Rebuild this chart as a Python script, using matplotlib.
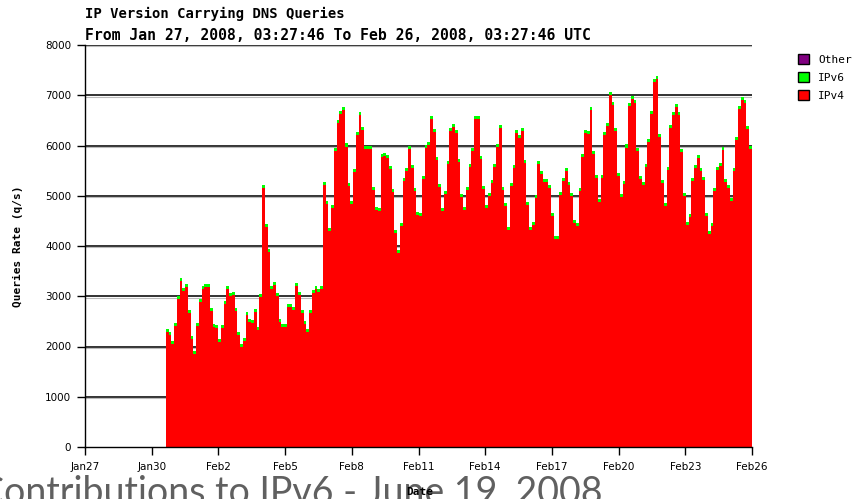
import numpy as np
import matplotlib
matplotlib.use("Agg")
import matplotlib.pyplot as plt
from matplotlib.patches import Patch

# ---- data (queries per second) ----
start_day = 3.64   # days after Jan 27 where the data begins
end_day = 30.0     # Feb 26

ipv4_a = [2280, 2230, 2050, 2410, 2950, 3300, 3110, 3190, 2660, 2150, 1850, 2410,
          2880, 3150, 3190, 3190, 2710, 2380, 2370, 2090, 2360, 2850, 3150, 3010,
          3030, 2710, 2230, 1990, 2110, 2630, 2490, 2460, 2680, 2330, 2980]
ipv4_b = [5150, 4380, 3890, 3150, 3230, 3000, 2490, 2390, 2390, 2790, 2790, 2720,
          3210, 3030, 2670, 2450, 2280, 2670, 3070, 3150, 3080, 3150, 5220, 4830,
          4290, 4760, 5890, 6440, 6620, 6710, 5980, 5200, 4830]
ipv4_c = [5480, 6200, 6600, 6310, 5940, 5940, 5930, 5120, 4720, 4690, 5780, 5800,
          5750, 5530, 5070, 4250, 3870, 4400, 5290, 5500, 5930, 5550, 5090, 4620,
          4590, 5340, 5950, 6010, 6530, 6260, 5720, 5170, 4700, 5040, 5630]
ipv4_d = [6280, 6360, 6250, 5680, 4970, 4720, 5120, 5580, 5900, 6520, 6520, 5730,
          5130, 4750, 4990, 5260, 5580, 5970, 6340, 5120, 4800, 4320, 5190, 5560,
          6250, 6150, 6280, 5650, 4820, 4320, 4420, 4950, 5640, 5430, 5280]
ipv4_e = [5270, 5150, 4590, 4140, 4140, 5020, 5290, 5490, 5220, 5000, 4460, 4400,
          5090, 5770, 6240, 6220, 6700, 5840, 5350, 4880, 5360, 6200, 6380, 7010,
          6810, 6280, 5390, 4970, 5240, 5960, 6780, 6930, 6850, 5890]
ipv4_f = [5330, 5210, 5580, 6060, 6630, 7260, 7320, 6170, 5250, 4790, 5520, 6350,
          6600, 6760, 6600, 5880, 4990, 4420, 4580, 5290, 5550, 5760, 5500, 5320,
          4590, 4230, 4400, 5100, 5520, 5600, 5920, 5280, 5150, 4890, 5500, 6110,
          6730, 6910, 6850, 6320, 5930]
ipv4 = ipv4_a + ipv4_b + ipv4_c + ipv4_d + ipv4_e + ipv4_f

# IPv6 is a thin, roughly even cap on every step
ipv6 = [60] * len(ipv4)

tick_days = [0, 3, 6, 9, 12, 15, 18, 21, 24, 27, 30]
tick_labels = ["Jan27", "Jan30", "Feb2", "Feb5", "Feb8", "Feb11", "Feb14",
               "Feb17", "Feb20", "Feb23", "Feb26"]
y_ticks = [0, 1000, 2000, 3000, 4000, 5000, 6000, 7000, 8000]

# ---- figure ----
W, H = 867, 499
fig = plt.figure(figsize=(W / 100, H / 100), dpi=100)
ax = fig.add_axes([85 / W, 1 - 447 / H, (752 - 85) / W, (447 - 45) / H])

n = len(ipv4)
edges = np.linspace(start_day, end_day, n + 1)
v4 = np.append(np.array(ipv4, float), ipv4[-1])
v6 = np.append(np.array(ipv6, float), ipv6[-1])

for yv in y_ticks[1:]:
    ax.axhline(yv, color="#222222", lw=1.3, zorder=1)
    ax.axhline(yv - 25, color="#bbbbbb", lw=0.8, zorder=1)

ax.fill_between(edges, 0, v4, step="post", color="#ff0000", lw=0, zorder=2)
ax.fill_between(edges, v4, v4 + v6, step="post", color="#00ff00", lw=0, zorder=2)

ax.set_xlim(0, 30)
ax.set_ylim(0, 8000)
ax.set_xticks(tick_days)
ax.set_xticklabels(tick_labels)
ax.set_yticks(y_ticks)
ax.set_yticklabels([str(v) for v in y_ticks])
ax.tick_params(axis="both", direction="out", length=6, width=1, labelsize=7.5,
               colors="black")
ax.tick_params(axis="x", pad=5)
ax.tick_params(axis="y", pad=4)
for s in ["top", "right"]:
    ax.spines[s].set_visible(False)
ax.spines["left"].set_linewidth(1)
ax.spines["bottom"].set_linewidth(1)

ax.set_ylabel("Queries Rate (q/s)", fontsize=8, fontweight="bold",
              family="DejaVu Sans Mono", labelpad=16)
fig.text(420 / W, 1 - 492 / H, "Date", fontsize=8, fontweight="bold",
         family="DejaVu Sans Mono", ha="center", va="center", zorder=5)

fig.text(85 / W, 1 - 14 / H, "IP Version Carrying DNS Queries", fontsize=10,
         fontweight="bold", family="DejaVu Sans Mono", ha="left", va="center")
fig.text(85 / W, 1 - 35 / H,
         "From Jan 27, 2008, 03:27:46 To Feb 26, 2008, 03:27:46 UTC",
         fontsize=10.6, fontweight="bold", family="DejaVu Sans Mono",
         ha="left", va="center")

handles = [Patch(facecolor="#800080", edgecolor="black", label="Other"),
           Patch(facecolor="#00ff00", edgecolor="black", label="IPv6"),
           Patch(facecolor="#ff0000", edgecolor="black", label="IPv4")]
fig.legend(handles=handles, loc="upper left", bbox_to_anchor=(788 / W, 1 - 44 / H),
           frameon=False, handlelength=1.0, handleheight=1.0,
           handletextpad=0.8, labelspacing=0.65,
           prop={"family": "DejaVu Sans Mono", "size": 8})

fig.text(-21 / W, 1 - 504 / H, "Contributions to IPv6 - June 19, 2008",
         fontsize=27, family="Lato", fontweight="normal", color="#606060",
         ha="left", va="baseline")

fig.savefig("out.png", dpi=100)
